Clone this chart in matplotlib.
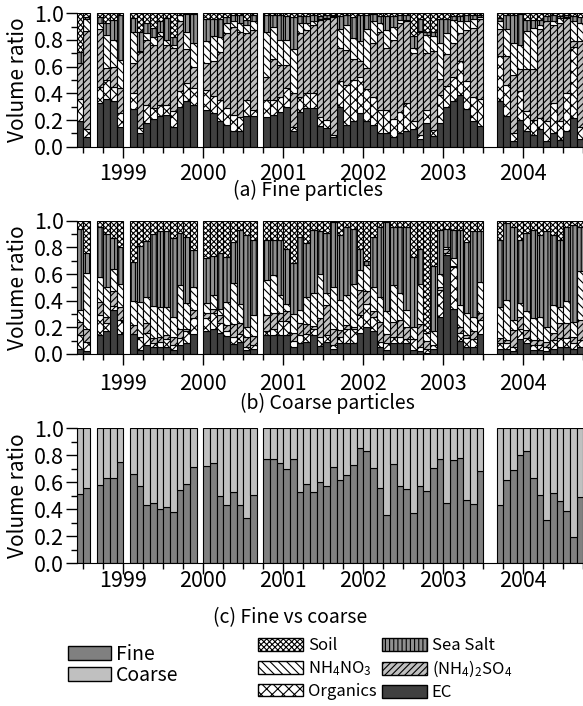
import numpy as np
import matplotlib.pyplot as plt
from matplotlib.patches import Patch

plt.rcParams['font.family'] = ['Noto Sans CJK JP', 'DejaVu Sans']
plt.rcParams['mathtext.fontset'] = 'custom'
plt.rcParams['mathtext.rm'] = 'Noto Sans CJK JP'
plt.rcParams['mathtext.it'] = 'Noto Sans CJK JP'
plt.rcParams['hatch.linewidth'] = 0.8

# sampled months (missing months are simply absent)
months = ['1998-06', '1998-07', '1998-09', '1998-10', '1998-11', '1998-12',
          '1999-02', '1999-03', '1999-04', '1999-05', '1999-06', '1999-07',
          '1999-08', '1999-09', '1999-10', '1999-11',
          '2000-01', '2000-02', '2000-03', '2000-04', '2000-05', '2000-06',
          '2000-07', '2000-08', '2000-10', '2000-11', '2000-12',
          '2001-01', '2001-02', '2001-03', '2001-04', '2001-05', '2001-06',
          '2001-07', '2001-08', '2001-09', '2001-10', '2001-11', '2001-12',
          '2002-01', '2002-02', '2002-03', '2002-04', '2002-05', '2002-06',
          '2002-07', '2002-08', '2002-09', '2002-10', '2002-11', '2002-12',
          '2003-01', '2003-02', '2003-03', '2003-04', '2003-05', '2003-06',
          '2003-09', '2003-10', '2003-11', '2003-12',
          '2004-01', '2004-02', '2004-03', '2004-04', '2004-05', '2004-06',
          '2004-07', '2004-08', '2004-09']

# (c) fine fraction of total volume (coarse = rest up to 1)
fine_frac = [0.51, 0.56, 0.58, 0.635, 0.635, 0.75,
             0.66, 0.575, 0.43, 0.445, 0.405, 0.415, 0.38, 0.545, 0.59, 0.71,
             0.72, 0.745, 0.495, 0.43, 0.525, 0.43, 0.335, 0.505,
             0.77, 0.77, 0.745,
             0.70, 0.775, 0.525, 0.585, 0.53, 0.60, 0.57, 0.71, 0.615, 0.655, 0.725, 0.855,
             0.835, 0.705, 0.555, 0.355, 0.735, 0.575, 0.55, 0.37, 0.575, 0.535, 0.705, 0.77,
             0.45, 0.765, 0.78, 0.47, 0.44, 0.685,
             0.435, 0.615, 0.69, 0.805,
             0.83, 0.63, 0.505, 0.32, 0.52, 0.46, 0.39, 0.195, 0.49]

# (a) fine particles: upper edge of each stacked layer (soil fills up to 1)
fine_ec = [0.19, 0.07, 0.33, 0.36, 0.345, 0.15,
           0.285, 0.10, 0.18, 0.21, 0.23, 0.24, 0.15, 0.30, 0.34, 0.315,
           0.275, 0.255, 0.195, 0.16, 0.12, 0.12, 0.23, 0.23,
           0.225, 0.235, 0.26,
           0.30, 0.12, 0.26, 0.29, 0.29, 0.155, 0.14, 0.07, 0.30, 0.16, 0.19, 0.25,
           0.19, 0.16, 0.10, 0.10, 0.075, 0.10, 0.12, 0.13, 0.06, 0.175, 0.08, 0.18,
           0.30, 0.34, 0.39, 0.28, 0.195, 0.155,
           0.34, 0.23, 0.04, 0.20,
           0.115, 0.09, 0.13, 0.045, 0.10, 0.05, 0.115, 0.215, 0.06]
fine_org = [0.36, 0.13, 0.45, 0.50, 0.45, 0.25,
            0.40, 0.14, 0.31, 0.29, 0.315, 0.315, 0.27, 0.42, 0.48, 0.44,
            0.425, 0.38, 0.35, 0.29, 0.24, 0.225, 0.35, 0.275,
            0.35, 0.35, 0.375,
            0.44, 0.15, 0.37, 0.40, 0.405, 0.22, 0.20, 0.09, 0.495, 0.46, 0.50, 0.52,
            0.43, 0.375, 0.275, 0.275, 0.21, 0.26, 0.33, 0.19, 0.09, 0.275, 0.125, 0.39,
            0.455, 0.525, 0.64, 0.49, 0.375, 0.36,
            0.68, 0.465, 0.10, 0.415,
            0.265, 0.20, 0.215, 0.19, 0.33, 0.19, 0.40, 0.75, 0.15]
fine_sulf = [0.63, 0.87, 0.88, 0.59, 0.60, 0.44,
             0.63, 0.71, 0.80, 0.765, 0.83, 0.765, 0.74, 0.94, 0.73, 0.60,
             0.625, 0.64, 0.71, 0.85, 0.90, 0.86, 0.85, 0.875,
             0.525, 0.66, 0.61,
             0.61, 0.40, 0.85, 0.875, 0.91, 0.95, 0.96, 0.975, 0.74, 0.725, 0.66, 0.64,
             0.59, 0.775, 0.86, 0.74, 0.80, 0.925, 0.94, 0.70, 0.86, 0.70, 0.72, 0.51,
             0.695, 0.775, 0.85, 0.875, 0.89, 0.96,
             0.88, 0.68, 0.54, 0.58,
             0.58, 0.58, 0.88, 0.94, 0.915, 0.93, 0.965, 0.79, 0.79]
fine_nit = [0.63, 0.96, 0.93, 0.84, 0.80, 0.65,
            0.86, 0.72, 0.85, 0.82, 0.86, 0.80, 0.76, 0.985, 0.86, 0.78,
            0.79, 0.83, 0.82, 0.925, 0.94, 0.93, 0.91, 0.94,
            0.86, 0.90, 0.80,
            0.80, 0.73, 0.93, 0.93, 0.94, 0.955, 0.965, 0.98, 0.88, 0.915, 0.815, 0.79,
            0.88, 0.945, 0.925, 0.875, 0.90, 0.95, 0.95, 0.74, 0.87, 0.84, 0.83, 0.775,
            0.85, 0.95, 0.94, 0.94, 0.96, 0.97,
            0.94, 0.885, 0.78, 0.765,
            0.865, 0.89, 0.915, 0.945, 0.94, 0.965, 0.97, 0.94, 0.93]
fine_salt = [0.71, 0.97, 0.975, 0.93, 0.95, 0.99,
             0.965, 0.86, 0.93, 0.89, 0.94, 0.965, 0.82, 0.99, 0.995, 0.995,
             0.96, 0.955, 0.96, 0.975, 0.99, 0.99, 0.95, 0.99,
             0.99, 0.99, 0.99,
             0.98, 0.975, 0.98, 0.98, 0.985, 0.98, 0.99, 0.99, 0.98, 0.99, 0.97, 0.99,
             0.99, 0.995, 0.98, 0.98, 0.98, 0.985, 0.99, 0.83, 0.96, 0.86, 0.86, 0.96,
             0.96, 0.98, 0.98, 0.99, 0.99, 0.99,
             0.965, 0.99, 0.99, 0.995,
             0.95, 0.95, 0.95, 0.98, 0.99, 0.98, 0.99, 0.98, 0.97]

# (b) coarse particles: upper edge of each stacked layer
coarse_ec = [0.04, 0.02, 0.145, 0.17, 0.33, 0.15,
             0.15, 0.03, 0.07, 0.055, 0.055, 0.055, 0.03, 0.07, 0.085, 0.15,
             0.175, 0.185, 0.16, 0.135, 0.075, 0.09, 0.03, 0.035,
             0.14, 0.14, 0.145,
             0.145, 0.05, 0.08, 0.09, 0.14, 0.06, 0.09, 0.04, 0.08, 0.085, 0.085, 0.155,
             0.20, 0.17, 0.055, 0.03, 0.08, 0.08, 0.08, 0.03, 0.02, 0.01, 0.04, 0.28,
             0.74, 0.34, 0.10, 0.055, 0.055, 0.15,
             0.04, 0.04, 0.02, 0.11,
             0.08, 0.03, 0.03, 0.02, 0.04, 0.055, 0.05, 0.04, 0.055]
coarse_org = [0.14, 0.09, 0.29, 0.23, 0.36, 0.255,
              0.15, 0.13, 0.155, 0.08, 0.09, 0.11, 0.07, 0.12, 0.17, 0.27,
              0.27, 0.305, 0.23, 0.17, 0.13, 0.15, 0.05, 0.07,
              0.17, 0.19, 0.25,
              0.25, 0.10, 0.14, 0.15, 0.19, 0.13, 0.14, 0.07, 0.13, 0.19, 0.185, 0.29,
              0.375, 0.28, 0.09, 0.08, 0.13, 0.13, 0.11, 0.11, 0.055, 0.04, 0.07, 0.48,
              0.76, 0.65, 0.155, 0.12, 0.11, 0.255,
              0.08, 0.08, 0.055, 0.19,
              0.12, 0.07, 0.07, 0.055, 0.105, 0.12, 0.12, 0.08, 0.105]
coarse_sulf = [0.24, 0.185, 0.39, 0.28, 0.47, 0.355,
               0.22, 0.13, 0.23, 0.12, 0.13, 0.14, 0.13, 0.19, 0.19, 0.33,
               0.305, 0.335, 0.29, 0.22, 0.225, 0.23, 0.13, 0.135,
               0.29, 0.305, 0.305,
               0.32, 0.16, 0.23, 0.225, 0.21, 0.27, 0.37, 0.19, 0.18, 0.22, 0.205, 0.48,
               0.47, 0.32, 0.24, 0.15, 0.24, 0.255, 0.205, 0.11, 0.225, 0.10, 0.07, 0.50,
               0.79, 0.66, 0.205, 0.14, 0.17, 0.305,
               0.12, 0.105, 0.18, 0.28,
               0.18, 0.105, 0.105, 0.09, 0.155, 0.23, 0.23, 0.13, 0.255]
coarse_nit = [0.33, 0.61, 0.58, 0.50, 0.64, 0.525,
              0.40, 0.39, 0.425, 0.36, 0.35, 0.355, 0.28, 0.52, 0.38, 0.50,
              0.38, 0.44, 0.34, 0.39, 0.535, 0.375, 0.205, 0.29,
              0.555, 0.59, 0.44,
              0.375, 0.30, 0.33, 0.425, 0.455, 0.60, 0.455, 0.505, 0.405, 0.44, 0.525, 0.63,
              0.67, 0.505, 0.43, 0.32, 0.52, 0.455, 0.33, 0.205, 0.525, 0.16, 0.17, 0.60,
              0.80, 0.72, 0.37, 0.305, 0.28, 0.54,
              0.355, 0.405, 0.255, 0.38,
              0.32, 0.27, 0.275, 0.205, 0.37, 0.355, 0.40, 0.24, 0.62]
coarse_salt = [0.935, 0.76, 0.95, 0.90, 0.87, 0.805,
               0.69, 0.81, 0.85, 0.90, 0.925, 0.92, 0.87, 0.905, 0.88, 0.78,
               0.72, 0.735, 0.76, 0.73, 0.84, 0.93, 0.89, 0.855,
               0.855, 0.855, 0.855,
               0.79, 0.685, 0.88, 0.83, 0.93, 0.92, 0.905, 0.99, 0.89, 0.955, 0.935, 0.79,
               0.70, 0.88, 0.955, 0.99, 0.955, 0.955, 0.955, 0.73, 0.79, 0.16, 0.66, 0.93,
               0.94, 0.93, 0.93, 0.84, 0.92, 0.92,
               0.855, 0.98, 0.955, 0.855,
               0.905, 0.93, 0.89, 0.92, 0.89, 0.855, 0.955, 0.97, 0.955]

comp_names = ['EC', 'Organics', '(NH$_4$)$_2$SO$_4$', 'NH$_4$NO$_3$', 'Sea Salt', 'Soil']
comp_face = ['#404040', 'white', '#c0c0c0', 'white', '#909090', 'white']
comp_hatch = [None, 'xxx', '/////', '\\\\\\\\', '||||', 'xxxxxx']

x = np.array([int(m[:4]) + (int(m[5:]) - 1) / 12 for m in months])
w = 1 / 12

fig = plt.figure(figsize=(5.83, 7.06), dpi=100)
W, H = 583, 706


def px_axes(left, top, right, bottom):
    return fig.add_axes([left / W, 1 - bottom / H, (right - left) / W, (bottom - top) / H])


def style_axis(ax, xpad):
    ax.set_xlim(1998 + 5 / 12, 2004 + 9 / 12)
    ax.set_ylim(0, 1)
    ax.spines[['top', 'right']].set_visible(False)
    ax.set_xticks(range(1999, 2005))
    ax.set_xticks(np.arange(1998.5, 2004.76, 0.25), minor=True)
    ax.set_yticks(np.arange(0, 1.01, 0.2))
    ax.set_yticks(np.arange(0, 1.01, 0.1), minor=True)
    ax.yaxis.set_major_formatter('{x:.1f}')
    ax.tick_params(which='major', direction='out', length=8, width=1, labelsize=15.5, pad=1.5)
    ax.tick_params(axis='x', which='major', pad=xpad)
    ax.tick_params(which='minor', direction='out', length=4, width=1)
    ax.set_ylabel('Volume ratio', fontsize=15, labelpad=3)


def stack(ax, tops):
    bottom = np.zeros(len(x))
    for top, fc, hatch in zip(tops + [np.ones(len(x))], comp_face, comp_hatch):
        top = np.asarray(top)
        ax.bar(x, top - bottom, bottom=bottom, width=w, align='edge',
               facecolor=fc, hatch=hatch, edgecolor='black', linewidth=0.8)
        bottom = top


ax_a = px_axes(76.7, 13.3, 583.3, 146.7)
stack(ax_a, [fine_ec, fine_org, fine_sulf, fine_nit, fine_salt])
style_axis(ax_a, 4)

ax_b = px_axes(76.7, 220.7, 583.3, 354.0)
stack(ax_b, [coarse_ec, coarse_org, coarse_sulf, coarse_nit, coarse_salt])
style_axis(ax_b, 6)

ax_c = px_axes(76.7, 428.3, 583.3, 563.3)
fine_frac = np.array(fine_frac)
ax_c.bar(x, fine_frac, width=w, align='edge', facecolor='#808080',
         edgecolor='black', linewidth=0.8)
ax_c.bar(x, 1 - fine_frac, bottom=fine_frac, width=w, align='edge',
         facecolor='#c0c0c0', edgecolor='black', linewidth=0.8)
style_axis(ax_c, -3)

fig.text(233 / W, 1 - 190 / H, '(a) Fine particles', fontsize=14, ha='left', va='center')
fig.text(240 / W, 1 - 403 / H, '(b) Coarse particles', fontsize=14, ha='left', va='center')
fig.text(213 / W, 1 - 618 / H, '(c) Fine vs coarse', fontsize=14, ha='left', va='center')

size_handles = [Patch(facecolor='#808080', edgecolor='black', label='Fine'),
                Patch(facecolor='#c0c0c0', edgecolor='black', label='Coarse')]
fig.legend(handles=size_handles, loc='upper left', bbox_to_anchor=(68 / W, 1 - 644 / H),
           frameon=False, fontsize=14, handlelength=2.2, handleheight=0.7,
           handletextpad=0.25, labelspacing=0.0, borderpad=0, borderaxespad=0)

order = [5, 3, 1, 4, 2, 0]
comp_handles = [Patch(facecolor=comp_face[i], hatch=comp_hatch[i], edgecolor='black',
                      label=comp_names[i]) for i in order]
fig.legend(handles=comp_handles, loc='upper left', bbox_to_anchor=(258 / W, 1 - 637 / H),
           ncol=2, frameon=False, fontsize=12, handlelength=2.7, handleheight=0.8,
           handletextpad=0.3, labelspacing=0.3, columnspacing=0.3,
           borderpad=0, borderaxespad=0)

fig.savefig('out.png', dpi=100)
